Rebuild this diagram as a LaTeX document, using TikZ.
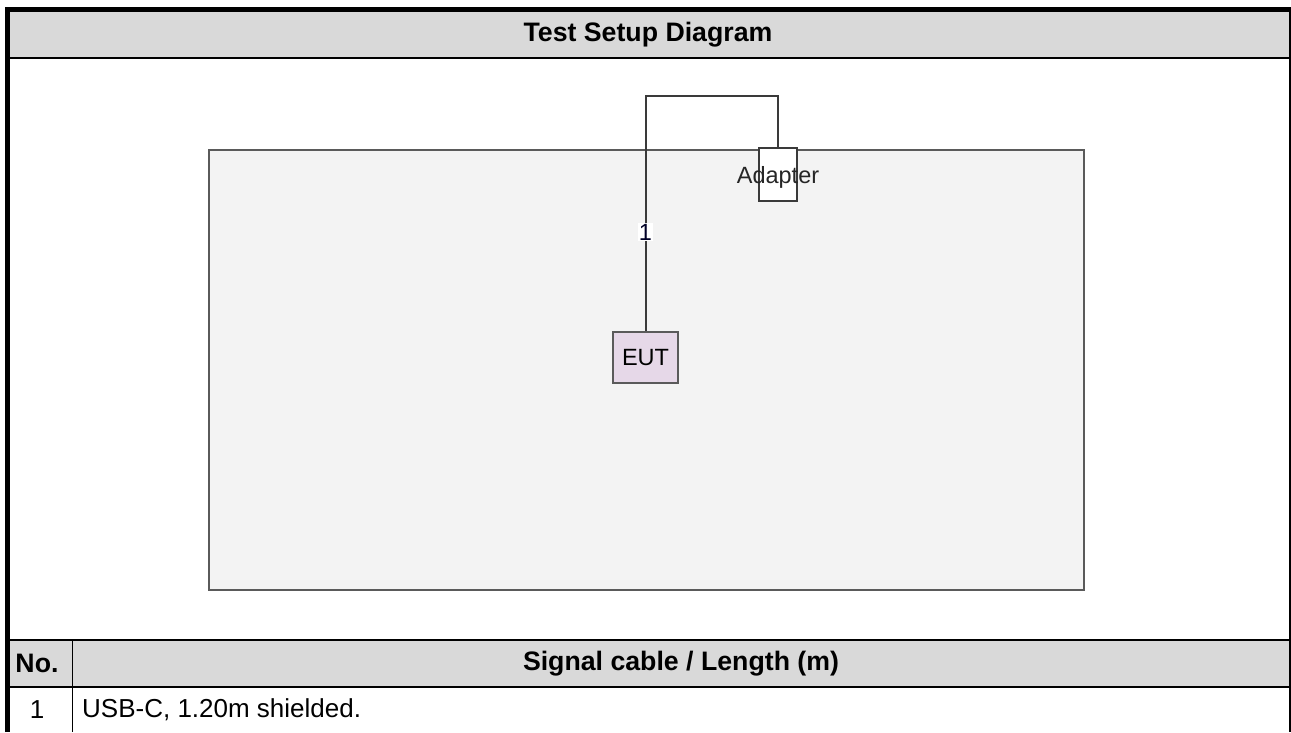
\documentclass[tikz,border=0pt]{standalone}
\usepackage{fontspec}
\setmainfont{Liberation Sans}
\definecolor{hdrgrey}{HTML}{D9D9D9}
\definecolor{areafill}{HTML}{F3F3F3}
\definecolor{areadraw}{HTML}{5A5A5A}
\definecolor{eutfill}{HTML}{E6D8E8}
\definecolor{cablec}{HTML}{3A3A3A}
\begin{document}
\begin{tikzpicture}[x=1pt,y=-1pt,
  hdrtext/.style={font=\fontsize{26.7}{30}\selectfont\bfseries, inner sep=0pt},
  celltext/.style={font=\fontsize{26}{30}\selectfont, inner sep=0pt},
  difont/.style={font=\fontsize{23.5}{27}\selectfont},
  area/.style={draw=areadraw, line width=2.4pt, fill=areafill, minimum width=875pt, minimum height=440pt, inner sep=0pt},
  eutbox/.style={draw=areadraw, line width=2.2pt, fill=eutfill, minimum width=65pt, minimum height=51pt, inner sep=0pt, difont, text=black},
  adapterbox/.style={draw=cablec, line width=1.8pt, fill=white, minimum width=38pt, minimum height=53pt, inner sep=0pt},
  cable/.style={draw=cablec, line width=2pt},
  cablelab/.style={fill=white, inner sep=1pt, difont, text=black!85!blue},
  rule/.style={black, line width=2pt}]
\useasboundingbox (0,0) rectangle (1291,732);
% header bands
\fill[hdrgrey] (7.5,12) rectangle (1290,57);
\fill[hdrgrey] (7.5,640) rectangle (1290,687);
% table lines
\draw[rule] (7.5,58) -- (1290,58);
\draw[rule] (7.5,640) -- (1290,640);
\draw[rule] (7.5,687) -- (1290,687);
\draw[black, line width=1.6pt] (72.5,640) -- (72.5,732);
\draw[black, line width=1.8pt] (1290.1,9) -- (1290.1,732);
\draw[black, line width=5pt] (7.5,732) -- (7.5,9.5) -- (1291,9.5);
% texts
\node[hdrtext] (title) at (648,34.5) {Test Setup Diagram};
\node[hdrtext] (hno) at (37,663.5) {No.};
\node[hdrtext] (hsig) at (681,663.5) {Signal cable / Length (m)};
\node[celltext] (r1no) at (37,710) {1};
\node[celltext, anchor=west] (r1txt) at (82,710) {USB-C, 1.20m shielded.};
% diagram
\node[area] (area) at (646.5,370) {};
\node[adapterbox] (adapter) at (778,174.5) {};
\node[difont, inner sep=0pt, text=black!85] (adlab) at (778,177) {Adapter};
\node[eutbox] (eut) at (645.5,357.5) {EUT};
\coordinate (ctop) at (712,96);
\draw[cable] (eut.north) |- (ctop) -| (adapter.north);
\node[cablelab] (lab1) at (645.5,232) {1};
\end{tikzpicture}
\end{document}
